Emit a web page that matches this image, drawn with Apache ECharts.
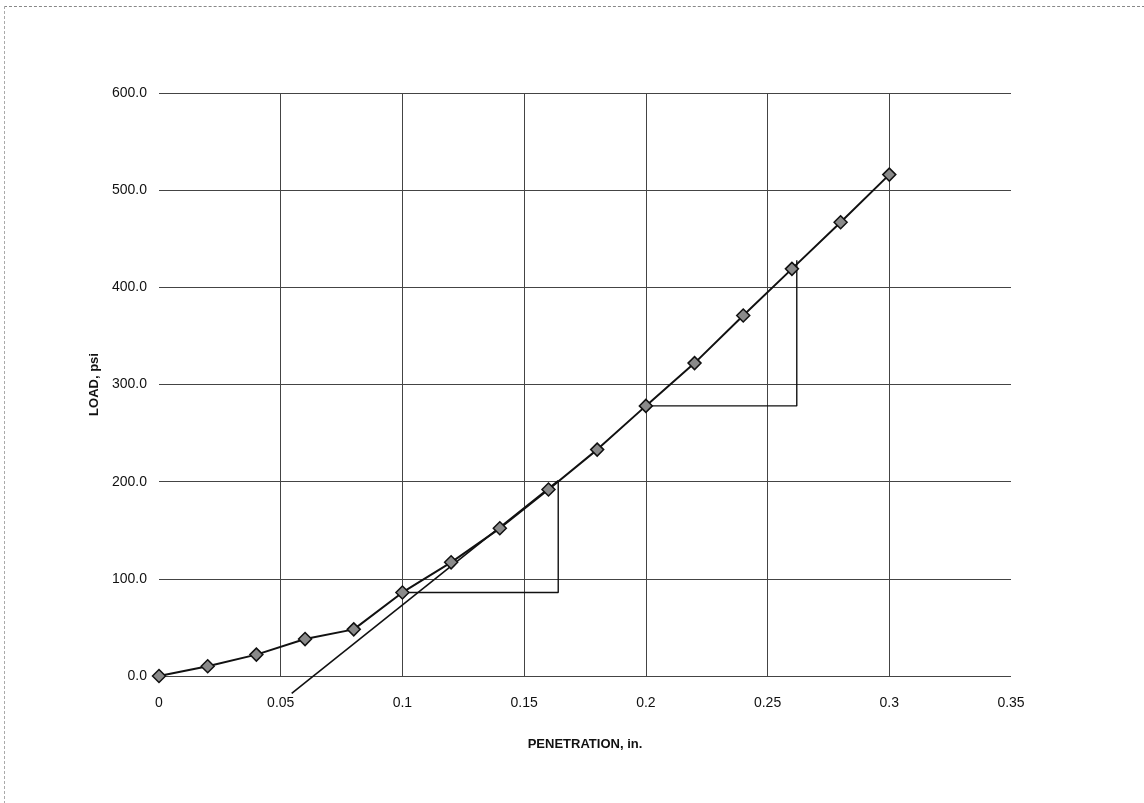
<!DOCTYPE html>
<html>
<head>
<meta charset="utf-8">
<script src="https://cdn.jsdelivr.net/npm/echarts@6/dist/echarts.min.js"></script>
<style>
  html, body { margin: 0; padding: 0; background: #fff; }
  #frame { position: absolute; left: 4px; top: 6px; width: 1140px; height: 797px;
           border-top: 1px dashed #888; border-left: 1px dashed #aaa; }
  #chart { position: absolute; left: 0; top: 0; width: 1144px; height: 803px; }
</style>
</head>
<body>
<div id="frame"></div>
<div id="chart"></div>
<script>
// penetration (in.) vs load (psi)
var penetration = [0, 0.02, 0.04, 0.06, 0.08, 0.1, 0.12, 0.14, 0.16, 0.18, 0.2, 0.22, 0.24, 0.26, 0.28, 0.3];
var load = [0, 10, 22, 38, 48, 86, 117, 152, 192, 233, 278, 322, 371, 419, 467, 516];

// correction tangent line
var tangentX = [0.0545, 0.164];
var tangentY = [-18, 201];

// slope triangles
var tri1X = [0.1, 0.164, 0.164];
var tri1Y = [86, 86, 200];
var tri2X = [0.2, 0.262, 0.262];
var tri2Y = [278, 278, 428];

function pairs(xs, ys) {
    return xs.map(function (x, i) { return [x, ys[i]]; });
}

var chart = echarts.init(document.getElementById('chart'));

var guideStyle = { color: '#111', width: 1.4 };

var option = {
    animation: false,
    grid: { left: 159, right: 133, top: 93, bottom: 127 },
    xAxis: {
        type: 'value',
        min: 0, max: 0.35, interval: 0.05,
        name: 'PENETRATION, in.',
        nameLocation: 'middle',
        nameGap: 62,
        nameTextStyle: { fontFamily: 'Liberation Sans', fontWeight: 'bold', fontSize: 13, color: '#111' },
        axisLine: { show: false },
        axisTick: { show: false },
        axisLabel: { fontFamily: 'Liberation Sans', fontSize: 14, color: '#111', margin: 20 },
        splitLine: { show: true, showMinLine: false, showMaxLine: false, lineStyle: { color: '#444', width: 1 } }
    },
    yAxis: {
        type: 'value',
        min: 0, max: 600, interval: 100,
        name: 'LOAD, psi',
        nameLocation: 'middle',
        nameGap: 52,
        nameTextStyle: { fontFamily: 'Liberation Sans', fontWeight: 'bold', fontSize: 13, color: '#111' },
        axisLine: { show: false },
        axisTick: { show: false },
        axisLabel: {
            fontFamily: 'Liberation Sans', fontSize: 14, color: '#111', margin: 12,
            formatter: function (v) { return v.toFixed(1); }
        },
        splitLine: { show: true, lineStyle: { color: '#444', width: 1 } }
    },
    series: [
        {
            type: 'line',
            data: pairs(tangentX, tangentY),
            showSymbol: false,
            clip: false,
            lineStyle: { color: '#111', width: 1.6 },
            z: 3
        },
        {
            type: 'line',
            data: pairs(tri1X, tri1Y),
            showSymbol: false,
            lineStyle: guideStyle,
            z: 3
        },
        {
            type: 'line',
            data: pairs(tri2X, tri2Y),
            showSymbol: false,
            lineStyle: guideStyle,
            z: 3
        },
        {
            type: 'line',
            data: pairs(penetration, load),
            symbol: 'diamond',
            symbolSize: 13,
            clip: false,
            lineStyle: { color: '#111', width: 2 },
            itemStyle: { color: '#8a8a8a', borderColor: '#111', borderWidth: 1.5 },
            z: 4
        }
    ]
};

chart.setOption(option);
</script>
</body>
</html>
